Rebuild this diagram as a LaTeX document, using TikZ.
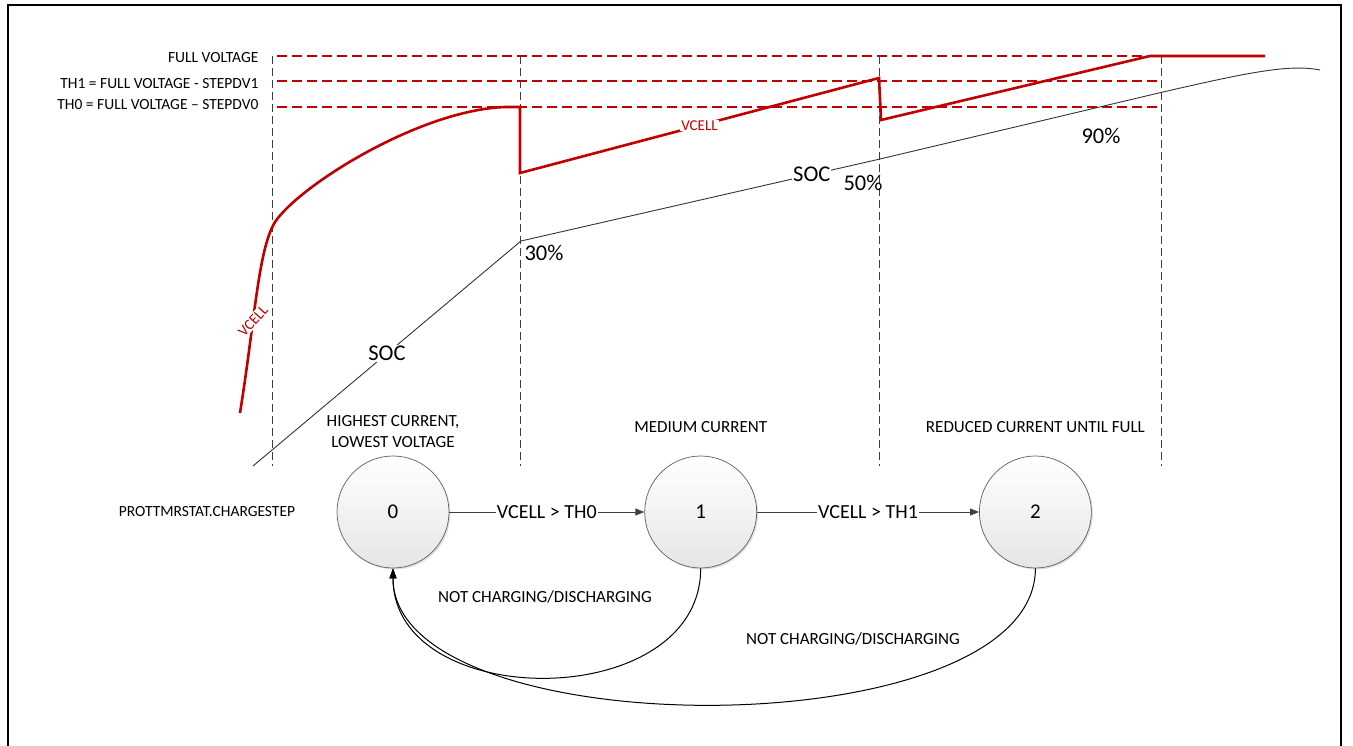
\documentclass[tikz,border=0pt]{standalone}
\usepackage{fontspec}
\setmainfont{Carlito}
\definecolor{VRed}{RGB}{192, 0, 0}
\definecolor{GuideGray}{RGB}{60, 60, 60}
\definecolor{StateEdge}{RGB}{95, 95, 95}
\usetikzlibrary{arrows.meta, positioning, shadows}

\begin{document}
\begin{tikzpicture}[
        x=1pt, y=-1pt,
        node distance=20pt,
        state/.style={circle, draw=StateEdge, line width=0.7pt, minimum size=112pt, top color=white, bottom color=black!10, drop shadow={shadow xshift=1.5pt, shadow yshift=-1.5pt, opacity=0.25}, font=\fontsize{21}{25}\selectfont},
        note/.style={font=\fontsize{17}{21}\selectfont, align=center},
        small/.style={font=\fontsize{15.5}{19}\selectfont},
        big/.style={font=\fontsize{22.5}{26}\selectfont, inner sep=1pt},
        tag/.style={text=VRed, font=\fontsize{15}{18}\selectfont, fill=white, inner sep=1pt},
        guide/.style={draw=GuideGray, line width=1pt, dash pattern=on 8pt off 4pt},
        thr/.style={draw=VRed, line width=1.2pt, dash pattern=on 10pt off 5pt},
        vcell/.style={draw=VRed, line width=2.6pt},
        soc/.style={draw=black!80, line width=0.9pt},
        line/.style={draw=black!75, -{Triangle[length=9pt, width=7pt]}, line width=0.9pt},
        back/.style={draw=black, -{Triangle[length=10pt, width=7pt]}, line width=1pt}
    ]
        \useasboundingbox (0,0) rectangle (1353,746);
        \draw[line width=1.5pt] (8,760) -- (8,5) -- (1341,5) -- (1341,760);

        % thresholds and phase limits
        \node[small, anchor=east] (lfull) at (262,58) {FULL VOLTAGE};
        \node[small, anchor=east] (lth1) at (262,84) {TH1 = FULL VOLTAGE - STEPDV1};
        \node[small, anchor=east] (lth0) at (262,105) {TH0 = FULL VOLTAGE – STEPDV0};
        \draw[thr] (277,56) -- (1161,56);
        \draw[thr] (277,81) -- (1161,81);
        \draw[thr] (277,107) -- (1161,107);
        \draw[guide] (272,56) -- (272,466);
        \draw[guide] (520,56) -- (520,466);
        \draw[guide] (879,56) -- (879,466);
        \draw[guide] (1161,56) -- (1161,466);

        % curves
        \draw[soc] (253,466) -- node[big, fill=white] {SOC} (521,241)
            -- node[big, fill=white, pos=0.81] {SOC} (880,159) -- (1163,92)
            .. controls (1250,72) and (1290,64) .. (1320,70);
        \draw[vcell] (240,413) .. controls (255,320) and (258,250) .. (275,222)
            .. controls (300,185) and (420,110) .. (505,107) -- (520,107) -- (520,173)
            -- node[tag] {VCELL} (879,78) -- (881,120) -- (1150,56) -- (1265,56);
        \node[tag, rotate=48] (vtag) at (253,321) {VCELL};
        \node[big] (p30) at (544,253) {30\%};
        \node[big] (p50) at (863,183) {50\%};
        \node[big] (p90) at (1101,136) {90\%};

        % charge steps
        \node[state] (s0) at (393,512) {0};
        \node[state, right=195pt of s0] (s1) {1};
        \node[state, right=222pt of s1] (s2) {2};
        \node[note, above=5pt of s0] (n0) {HIGHEST CURRENT,\\LOWEST VOLTAGE};
        \node[note, above=19pt of s1] (n1) {MEDIUM CURRENT};
        \node[note, above=19pt of s2] (n2) {REDUCED CURRENT UNTIL FULL};
        \node[small, left=38pt of s0] (nstep) {PROTTMRSTAT.CHARGESTEP};

        \path[line] (s0) -- node[big, fill=white, font=\fontsize{20}{24}\selectfont] {VCELL > TH0} (s1);
        \path[line] (s1) -- node[big, fill=white, font=\fontsize{20}{24}\selectfont] {VCELL > TH1} (s2);
        \path[back] (s1.south) .. controls +(0,145) and +(0,145) .. (s0.south);
        \path[back] (s2.south) .. controls +(0,181) and +(0,181) .. (s0.south);
        \node[note] (nc1) at (545,597) {NOT CHARGING/DISCHARGING};
        \node[note] (nc2) at (853,639) {NOT CHARGING/DISCHARGING};
    \end{tikzpicture}
\end{document}
